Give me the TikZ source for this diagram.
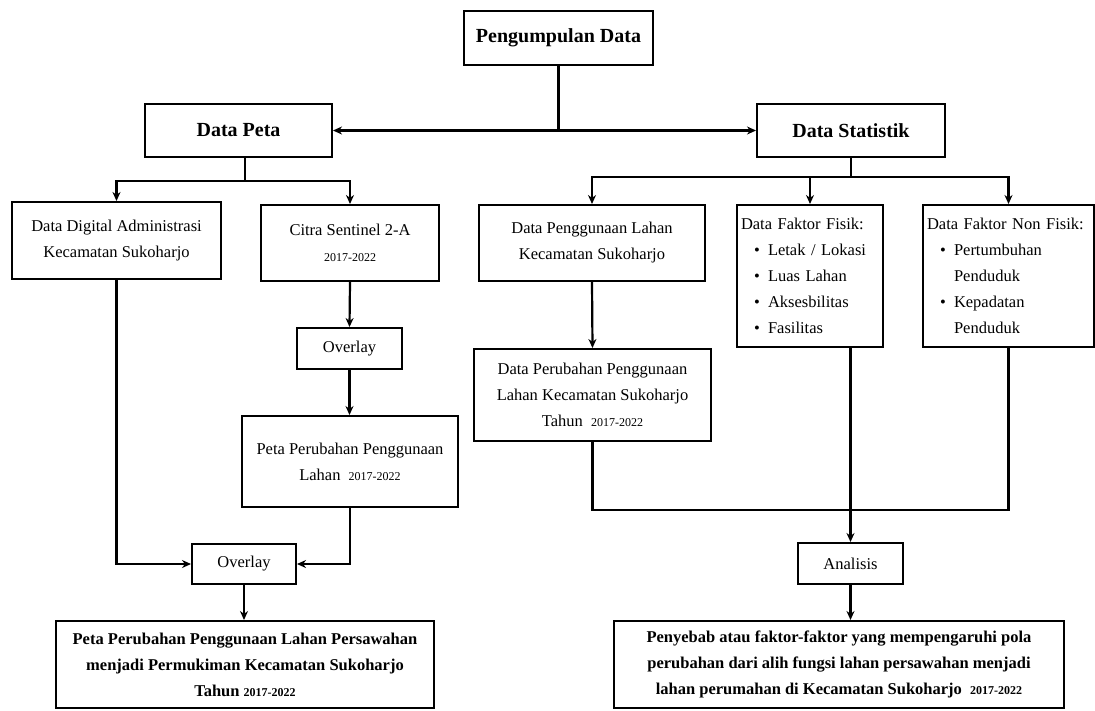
\documentclass[tikz,border=0pt]{standalone}
\usepackage{fontspec}
\setmainfont{Liberation Serif}
\usetikzlibrary{arrows.meta,calc}
\newcommand{\yrs}[1]{{\fontsize{12}{14}\selectfont #1}}
\newcommand{\bitem}{\hspace*{13pt}\makebox[14pt][l]{\textbullet}}
\newcommand{\bcont}{\hspace*{27pt}}
\begin{document}
\begin{tikzpicture}[x=1pt,y=-1pt,
  box/.style={draw, line width=2pt, inner sep=2pt, align=center},
  reg/.style={font=\fontsize{16.5}{26}\selectfont},
  hd/.style={font=\fontsize{20}{24}\selectfont\bfseries},
  bb/.style={font=\fontsize{16.5}{26}\selectfont\bfseries},
  ln/.style={line width=2.2pt},
  tip/.tip={Stealth[length=9pt,width=8pt]},
  arr/.style={ln, -tip}]
\useasboundingbox (0,0) rectangle (1095,710);

% nodes
\node[box,hd,minimum width=189pt,minimum height=54pt] (top) at (558.5,38) {Pengumpulan Data};
\node[box,hd,minimum width=187pt,minimum height=53pt] (peta) at (238.5,130.5) {Data Peta};
\node[box,hd,minimum width=188pt,minimum height=53pt] (stat) at (851,130.5) {Data Statistik};

\node[box,reg,minimum width=209pt,minimum height=77pt] (digital) at (116.5,240.5) {Data Digital Administrasi\\Kecamatan Sukoharjo};
\node[box,reg,minimum width=178pt,minimum height=76pt] (citra) at (350,243) {Citra Sentinel 2-A\\\yrs{2017-2022}};
\node[box,reg,minimum width=226pt,minimum height=76pt] (guna) at (592,243) {Data Penggunaan Lahan\\Kecamatan Sukoharjo};
\node[box,reg,align=left,text width=138pt,inner xsep=4pt,minimum height=142pt] (fisik) at (810,276)
  {Data Faktor Fisik:\\\bitem Letak / Lokasi\\\bitem Luas Lahan\\\bitem Aksesbilitas\\\bitem Fasilitas};
\node[box,reg,align=left,text width=163pt,inner xsep=4pt,minimum height=142pt] (nonfisik) at (1008.5,276)
  {Data Faktor Non Fisik:\\\bitem Pertumbuhan\\\bcont Penduduk\\\bitem Kepadatan\\\bcont Penduduk};

\node[box,reg,minimum width=105pt,minimum height=41pt] (ov1) at (349.5,348.5) {Overlay};
\node[box,reg,minimum width=216pt,minimum height=91pt] (petaperub) at (350,461.5) {Peta Perubahan Penggunaan\\Lahan~ \yrs{2017-2022}};
\node[box,reg,minimum width=104pt,minimum height=40pt] (ov2) at (244,564) {Overlay};
\node[box,bb,minimum width=378pt,minimum height=87pt] (hasil1) at (245,664.5)
  {Peta Perubahan Penggunaan Lahan Persawahan\\menjadi Permukiman Kecamatan Sukoharjo\\Tahun \yrs{\bfseries 2017-2022}};

\node[box,reg,minimum width=237pt,minimum height=92pt] (perub) at (592.5,395) {Data Perubahan Penggunaan\\Lahan Kecamatan Sukoharjo\\Tahun~ \yrs{2017-2022}};
\node[box,reg,minimum width=105pt,minimum height=41pt] (analisis) at (850.5,563.5) {Analisis};
\node[box,bb,minimum width=450pt,minimum height=87pt] (hasil2) at (839,664.5)
  {Penyebab atau faktor-faktor yang mempengaruhi pola\\perubahan dari alih fungsi lahan persawahan menjadi\\lahan perumahan di Kecamatan Sukoharjo~ \yrs{\bfseries 2017-2022}};

% junctions
\coordinate (pj) at (245,181);
\coordinate (sj) at (851,177);

% connectors
\draw[ln] (top.south) -- (top.south |- peta.east);
\draw[ln, tip-tip] (peta.east) -- (stat.west);

\draw[ln] (peta.south -| pj) -- (pj);
\draw[arr] (pj) -| (digital.north);
\draw[arr] (pj) -| (citra.north);

\draw[ln] (stat.south) -- (sj);
\draw[arr] (sj) -| (guna.north);
\draw[arr] (sj) -| (fisik.north);
\draw[arr] (sj) -| (nonfisik.north);

\draw[arr] (citra.south) -- (ov1.north);
\draw[arr] (ov1.south) -- (ov1.south |- petaperub.north);
\draw[arr] (digital.south) |- (ov2.west);
\draw[arr] (petaperub.south) |- (ov2.east);
\draw[arr] (ov2.south) -- (ov2.south |- hasil1.north);

\draw[arr] (guna.south) -- (perub.north);
\draw[ln] (perub.south) -- ++(0,68) -| (nonfisik.south);
\draw[arr] (fisik.south -| analisis.north) -- (analisis.north);
\draw[arr] (analisis.south) -- (analisis.south |- hasil2.north);
\end{tikzpicture}
\end{document}
